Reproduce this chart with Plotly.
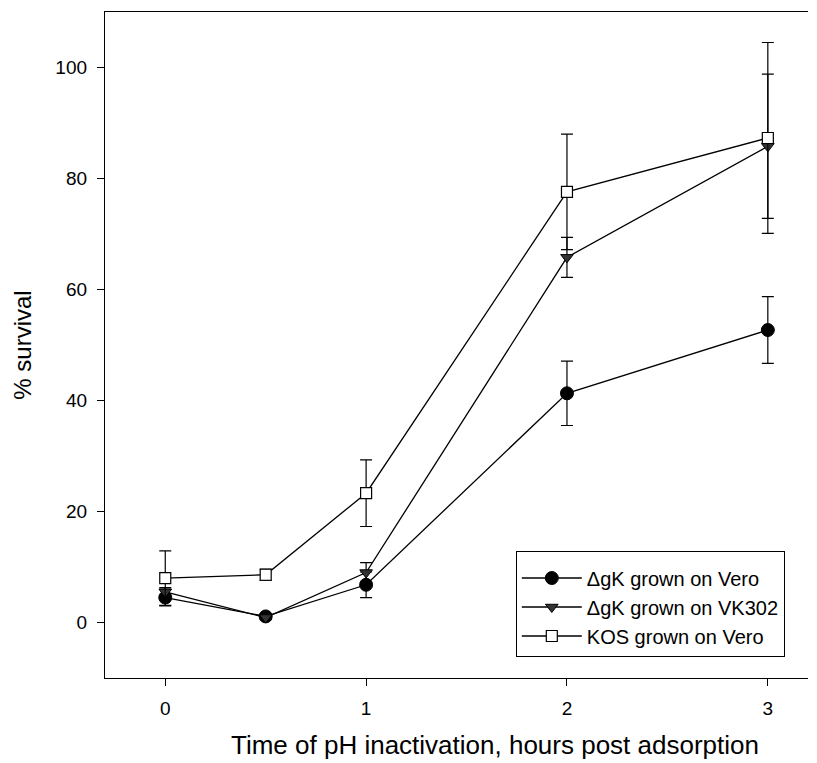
import plotly.graph_objects as go

x_vals = [0, 0.5, 1, 2, 3]

vero_y = [4.5, 1.1, 6.8, 41.3, 52.7]
vero_err = [1.5, 0.4, 2.3, 5.8, 6.0]

vk302_y = [5.5, 0.9, 9.0, 65.8, 85.8]
vk302_err = [0.8, 0.4, 1.8, 3.6, 13.0]

kos_y = [8.0, 8.6, 23.3, 77.6, 87.3]
kos_err = [4.9, 1.0, 6.0, 10.4, 17.2]

names = ["ΔgK grown on Vero", "ΔgK grown on VK302", "KOS grown on Vero"]
x_title = "Time of pH inactivation, hours post adsorption"
y_title = "% survival"

fig = go.Figure()

fig.add_trace(go.Scatter(
    x=x_vals, y=vero_y, name=names[0], mode="lines+markers",
    line=dict(color="black", width=1.3),
    marker=dict(symbol="circle", size=13, color="black", line=dict(color="black", width=1)),
    error_y=dict(type="data", array=vero_err, visible=True, color="black", thickness=1.2, width=6),
))
fig.add_trace(go.Scatter(
    x=x_vals, y=vk302_y, name=names[1], mode="lines+markers",
    line=dict(color="black", width=1.3),
    marker=dict(symbol="triangle-down", size=11, color="#333333", line=dict(color="black", width=1)),
    error_y=dict(type="data", array=vk302_err, visible=True, color="black", thickness=1.2, width=6),
))
fig.add_trace(go.Scatter(
    x=x_vals, y=kos_y, name=names[2], mode="lines+markers",
    line=dict(color="black", width=1.3),
    marker=dict(symbol="square", size=11, color="white", line=dict(color="black", width=1.2)),
    error_y=dict(type="data", array=kos_err, visible=True, color="black", thickness=1.2, width=6),
))

font_family = "Liberation Sans, Arial, sans-serif"

fig.update_layout(
    width=809, height=755,
    margin=dict(l=97, r=9, t=4, b=85),
    paper_bgcolor="white", plot_bgcolor="white",
    font=dict(family=font_family, color="black", size=19),
    showlegend=True,
    legend=dict(
        x=0.967, y=0.0315, xanchor="right", yanchor="bottom",
        bordercolor="black", borderwidth=1, bgcolor="white",
        font=dict(size=20, family=font_family, color="black"),
        itemwidth=60,
        entrywidth=271, entrywidthmode="pixels",
        title=dict(text="\u00a0", font=dict(size=5)),
    ),
    xaxis=dict(
        range=[-0.3, 3.2], tickvals=[0, 1, 2, 3], ticks="outside", ticklen=7,
        tickcolor="black", showline=True, linecolor="black", linewidth=1.3,
        mirror=True, showgrid=False, zeroline=False,
        tickfont=dict(size=19), ticklabelstandoff=6,
    ),
    yaxis=dict(
        range=[-10, 110], tickvals=[0, 20, 40, 60, 80, 100], ticks="outside", ticklen=7,
        tickcolor="black", showline=True, linecolor="black", linewidth=1.3,
        showgrid=False, zeroline=False,
        tickfont=dict(size=19), ticklabelstandoff=6,
        title=dict(text=y_title, font=dict(size=24), standoff=16),
    ),
    annotations=[dict(
        text=x_title, xref="paper", yref="paper", x=0.555, y=0,
        xanchor="center", yanchor="middle", yshift=-67, showarrow=False,
        font=dict(size=26, family=font_family, color="black"),
    )],
)

fig.write_html("out.html")
